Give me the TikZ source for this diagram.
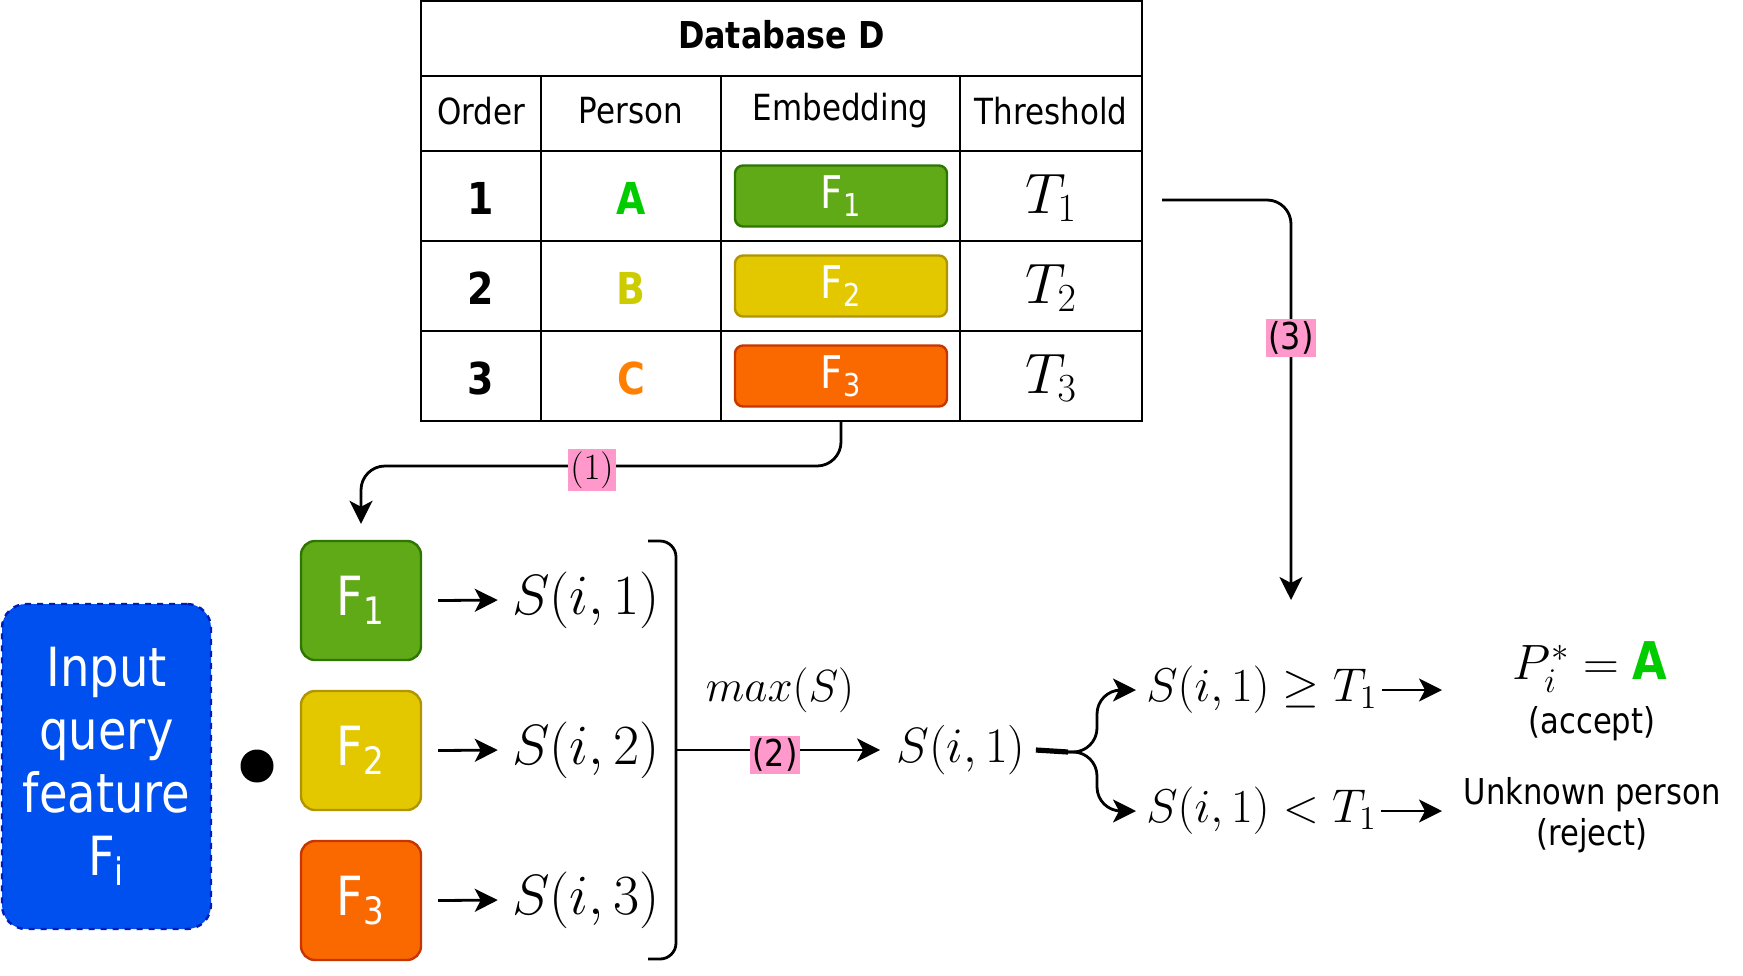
\RequirePackage{fix-cm}
\documentclass[tikz,border=0pt]{standalone}
\usepackage[no-math]{fontspec}
\setmainfont{DejaVu Sans}[FakeStretch=0.86]
\usepackage{amsmath}
\usepackage{tikz}
\usetikzlibrary{arrows.meta,positioning}
\definecolor{EmbGreen}{HTML}{60A917}
\definecolor{EmbGreenLine}{HTML}{2D7600}
\definecolor{EmbYellow}{HTML}{E3C800}
\definecolor{EmbYellowLine}{HTML}{B09500}
\definecolor{EmbOrange}{HTML}{FA6800}
\definecolor{EmbOrangeLine}{HTML}{C73500}
\definecolor{QueryBlue}{HTML}{0050EF}
\definecolor{QueryBlueLine}{HTML}{001DBC}
\definecolor{StepPink}{HTML}{FF99CC}
\definecolor{PersonA}{HTML}{00CC00}
\definecolor{PersonB}{HTML}{CCCC00}
\definecolor{PersonC}{HTML}{FF8000}
\tikzset{
  dbline/.style={line width=1.4pt},
  dbhead/.style={font=\fontsize{18}{21}\selectfont},
  dbnum/.style={font=\fontsize{22}{25}\selectfont\bfseries},
  embbox/.style={draw=#1Line,fill=#1,line width=1.2pt,rounded corners=4pt,
    minimum width=106pt,minimum height=30.5pt,inner sep=0pt,text=white,
    font=\fontsize{22.5}{25}\selectfont},
  featbox/.style={draw=#1Line,fill=#1,line width=1.2pt,rounded corners=7pt,
    minimum width=60pt,minimum height=59.5pt,inner sep=0pt,text=white,
    font=\fontsize{27}{30}\selectfont},
  steplabel/.style={fill=StepPink,inner sep=1.2pt,font=\fontsize{18.5}{21}\selectfont},
  flow/.style={line width=1.4pt,-{Stealth[length=11.5pt,width=11.5pt,inset=3pt]}},
  bigmath/.style={inner sep=2pt,font=\fontsize{28.4}{32}\selectfont},
  midmath/.style={inner sep=2pt,font=\fontsize{24.8}{28}\selectfont},
  outtext/.style={inner sep=1pt,align=center,font=\fontsize{17.8}{20.5}\selectfont},
}
\begin{document}
\begin{tikzpicture}[x=0.5pt,y=-0.5pt]
    \useasboundingbox (0,0) rectangle (1743,975);
    % Database table
    \draw[dbline] (421,1) rectangle (1142,421);
    \foreach \y in {76,151,241,331} \draw[dbline] (421,\y) -- (1142,\y);
    \foreach \x in {541,721,960} \draw[dbline] (\x,76) -- (\x,421);
    \node[dbhead,font=\fontsize{18.5}{21}\selectfont\bfseries] (title) at (781.5,35) {Database D};
    \node[dbhead] (hOrder) at (481,111) {Order};
    \node[dbhead] (hPerson) at (631,111) {Person};
    \node[dbhead] (hEmb) at (840.5,111) {Embedding};
    \node[dbhead] (hThr) at (1051,111) {Threshold};
    \foreach \i/\p/\c/\e/\y in {1/A/PersonA/EmbGreen/196,2/B/PersonB/EmbYellow/286,3/C/PersonC/EmbOrange/376}{
        \node[dbnum] (num\i) at (481,\y+2) {\i};
        \node[dbnum,text=\c] (per\i) at (631,\y+2) {\p};
        \node[embbox=\e] (emb\i) at (841,\y) {F$_{\text{\i}}$};
        \node[font=\fontsize{28.5}{32}\selectfont] (thr\i) at (1051,\y+2) {$T_{\i}$};
    }
    \coordinate (dbS) at (841,421);
    \coordinate (dbE) at (1162,200);
    % query feature and stored embeddings
    \node[draw=QueryBlueLine,fill=QueryBlue,dashed,line width=1.2pt,rounded corners=12pt,
        minimum width=104.5pt,minimum height=162.5pt,text=white,align=center,
        font=\fontsize{27}{31.5}\selectfont] (query) at (106.5,766.5) {Input\\query\\feature\\F$_{\text{i}}$};
    \node[circle,fill=black,minimum size=16.5pt,inner sep=0pt] (dot) at (257,766) {};
    \node[featbox=EmbGreen] (feat1) at (361,600.5) {F$_{\text{1}}$};
    \node[featbox=EmbYellow] (feat2) at (361,750.5) {F$_{\text{2}}$};
    \node[featbox=EmbOrange] (feat3) at (361,900.5) {F$_{\text{3}}$};
    \foreach \i/\y in {1/600,2/750,3/900}{
        \node[bigmath] (s\i) at (586,\y) {$S(i,\i)$};
        \draw[flow,shorten >=5pt] ([xshift=8pt]feat\i.east) -- (s\i.west);
    }
    % step (1)
    \draw[flow,rounded corners=12pt,shorten >=8pt] (dbS) -- ++(0,45) -| (feat1.north);
    \node[steplabel,font=\fontsize{18.5}{21}\selectfont] (lbl1) at (592,470) {$(1)$};
    % bracket and step (2)
    \draw[dbline,rounded corners=8pt] (648,541) -- (676,541) -- (676,959) -- (648,959);
    \coordinate (brk) at (676,750);
    \node[midmath] (smax) at (961,750) {$S(i,1)$};
    \node[inner sep=1pt,font=\fontsize{22.5}{26}\selectfont] (maxS) at (780,690) {$max(S)$};
    \draw[flow,shorten >=6pt] (brk) -- (smax.west);
    \node[steplabel] (lbl2) at (775,755) {(2)};
    % decision
    \node[midmath,anchor=west,font=\fontsize{23.7}{27}\selectfont] (geq) at (1142,690) {$S(i,1)\geq T_1$};
    \node[midmath,anchor=west,font=\fontsize{23.7}{27}\selectfont] (less) at (1142,811) {$S(i,1)<T_1$};
    \coordinate (fmid) at (1068,752);
    \coordinate (fork) at (1097,752);
    \draw[line width=2.6pt] ([xshift=3pt]smax.east) -- (fmid);
    \draw[flow,rounded corners=12pt,shorten >=3pt] (fmid) -- (fork) |- (geq.west);
    \draw[flow,rounded corners=12pt,shorten >=3pt] (fmid) -- (fork) |- (less.west);
    \coordinate (accIn) at (1442,690);
    \coordinate (rejIn) at (1442,811);
    \draw[flow] (geq.east) -- (accIn);
    \draw[flow] (less.east) -- (rejIn);
    \node[inner sep=1pt,font=\fontsize{24.8}{28}\selectfont] (pstar) at (1590,667)
        {$P_i^{*}=$ \textcolor{PersonA}{\fontsize{26}{28}\selectfont\bfseries A}};
    \node[outtext] (acc) at (1592,724) {(accept)};
    \node[outtext] (unk) at (1592,815.5) {Unknown person\\(reject)};
    % step (3)
    \coordinate (chk) at (1291,600);
    \draw[flow,rounded corners=12pt] (dbE) -| (chk);
    \node[steplabel] (lbl3) at (1291,338) {(3)};
\end{tikzpicture}
\end{document}
